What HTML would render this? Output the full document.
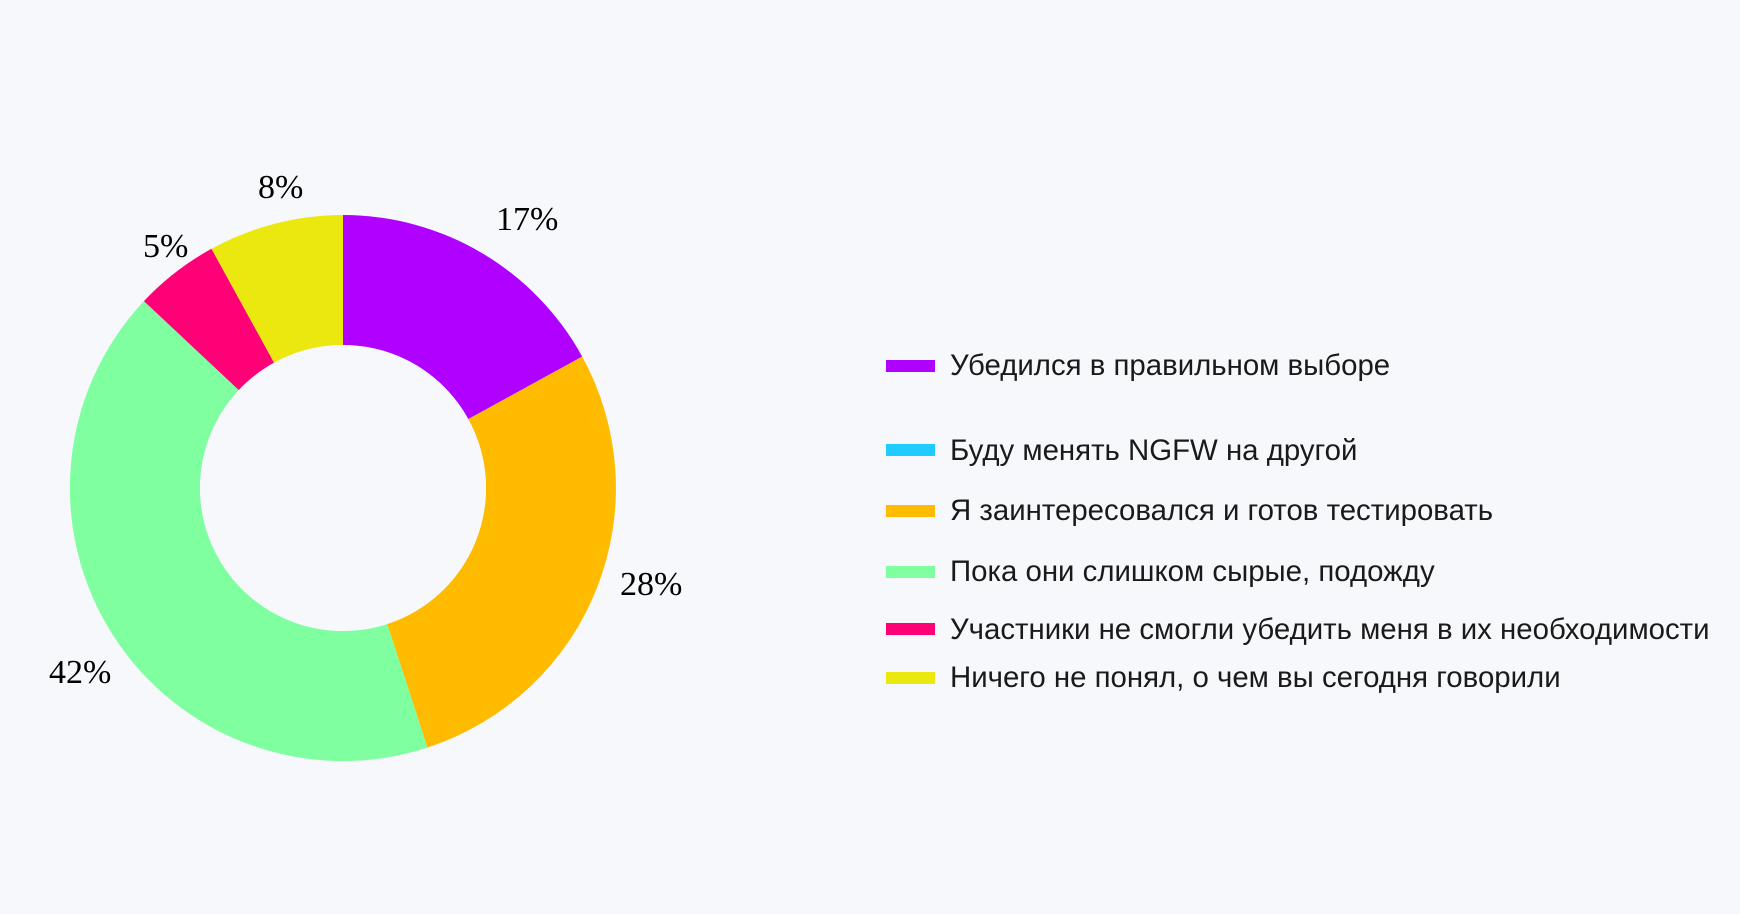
<!DOCTYPE html>
<html><head><meta charset="utf-8"><style>
html,body{margin:0;padding:0;background:#f7f8fb;}
svg{display:block}
.l{font-family:"Liberation Serif",serif;font-size:34px;fill:#000}
.t{font-family:"Liberation Sans",sans-serif;font-size:29.4px;fill:#1a1a1a}
</style></head><body>
<svg width="1740" height="914" viewBox="0 0 1740 914">
<rect width="1740" height="914" fill="#f7f8fb"/>
<path d="M343,215 A273,273 0 0 1 582.2,356.6 L468.3,419.1 A143,143 0 0 0 343,345 Z" fill="#b000ff"/>
<path d="M582.2,356.6 A273,273 0 0 1 427.4,747.6 L387.2,624 A143,143 0 0 0 468.3,419.1 Z" fill="#ffbb00"/>
<path d="M427.4,747.6 A273,273 0 0 1 143.9,301.1 L238.8,390.1 A143,143 0 0 0 387.2,624 Z" fill="#80ffa0"/>
<path d="M143.9,301.1 A273,273 0 0 1 211.5,248.8 L274.1,362.7 A143,143 0 0 0 238.8,390.1 Z" fill="#ff0077"/>
<path d="M211.5,248.8 A273,273 0 0 1 343,215 L343,345 A143,143 0 0 0 274.1,362.7 Z" fill="#ebe810"/>
<circle cx="343" cy="488" r="143" fill="#f7f8fb"/>
<text class="l" x="496" y="230">17%</text>
<text class="l" x="620" y="595">28%</text>
<text class="l" x="49" y="683">42%</text>
<text class="l" x="143" y="257">5%</text>
<text class="l" x="258" y="198">8%</text>
<rect x="886" y="360" width="49" height="12" fill="#b000ff"/>
<text class="t" x="950" y="375">Убедился в правильном выборе</text>
<rect x="886" y="444" width="49" height="12" fill="#20ccff"/>
<text class="t" x="950" y="460">Буду менять NGFW на другой</text>
<rect x="886" y="505" width="49" height="12" fill="#ffbb00"/>
<text class="t" x="950" y="520">Я заинтересовался и готов тестировать</text>
<rect x="886" y="566" width="49" height="12" fill="#80ffa0"/>
<text class="t" x="950" y="581">Пока они слишком сырые, подожду</text>
<rect x="886" y="623" width="49" height="12" fill="#ff0077"/>
<text class="t" x="950" y="639">Участники не смогли убедить меня в их необходимости</text>
<rect x="886" y="672" width="49" height="12" fill="#ebe810"/>
<text class="t" x="950" y="687">Ничего не понял, о чем вы сегодня говорили</text>
</svg>
</body></html>
